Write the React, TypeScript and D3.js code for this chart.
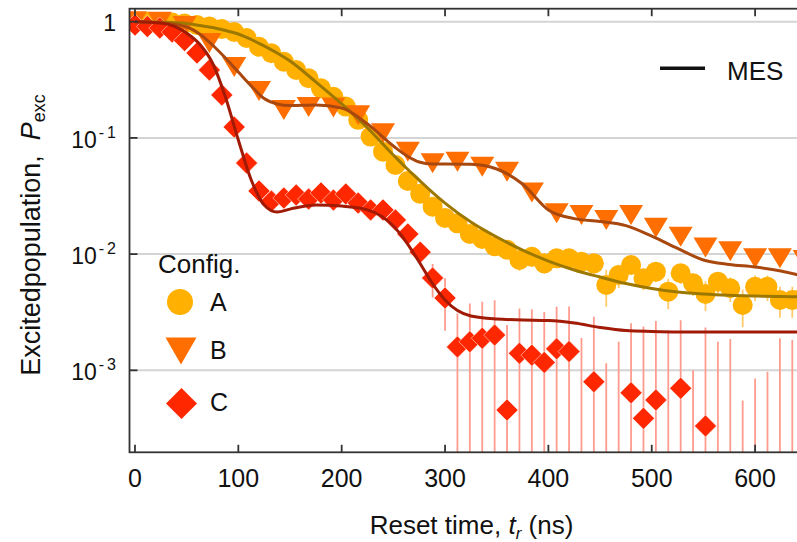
import React from 'react';
import * as d3 from 'd3';

// ---------- data ----------
const tAC = [0, 12, 24, 36, 48, 60, 72, 84, 96, 108, 120, 132, 144, 156, 168, 180, 192, 204, 216, 228, 240, 252, 264, 276, 288, 300, 312, 324, 336, 348, 360, 372, 384, 396, 408, 420, 432, 444, 456, 468, 480, 492, 504, 516, 528, 540, 552, 564, 576, 588, 600, 612, 624, 636, 648];
const tB = [0, 24, 48, 72, 96, 120, 144, 168, 192, 216, 240, 264, 288, 312, 336, 360, 384, 408, 432, 456, 480, 504, 528, 552, 576, 600, 624, 648];

const popA = [1.0, 1.0, 0.994, 0.984, 0.965, 0.937, 0.909, 0.865, 0.815, 0.724, 0.609, 0.535, 0.453, 0.384, 0.326, 0.267, 0.226, 0.186, 0.143, 0.1026, 0.0761, 0.0584, 0.0426, 0.033, 0.0256, 0.0205, 0.0184, 0.0149, 0.0135, 0.0117, 0.0109, 0.0089, 0.0095, 0.00833, 0.0092, 0.0092, 0.0086, 0.00833, 0.00542, 0.00661, 0.00806, 0.00619, 0.00706, 0.00475, 0.00684, 0.00561, 0.00454, 0.00579, 0.00508, 0.00365, 0.00524, 0.00524, 0.00403, 0.00403, 0.0044];
const errA = [0.002, 0.002, 0.002, 0.003, 0.004, 0.005, 0.006, 0.007, 0.007, 0.008, 0.008, 0.008, 0.008, 0.008, 0.008, 0.007, 0.007, 0.006, 0.006, 0.005, 0.005, 0.004, 0.0035, 0.003, 0.0028, 0.0025, 0.0024, 0.0022, 0.002, 0.0019, 0.0018, 0.0017, 0.0017, 0.0016, 0.0016, 0.0016, 0.0016, 0.0016, 0.0019, 0.0015, 0.0014, 0.0013, 0.0013, 0.0014, 0.0013, 0.00125, 0.0013, 0.0012, 0.0012, 0.0013, 0.0013, 0.0013, 0.0012, 0.0012, 0.0012];

const popB = [1.01, 1.0, 0.92, 0.656, 0.408, 0.253, 0.174, 0.1845, 0.183, 0.157, 0.1096, 0.0761, 0.0605, 0.0624, 0.0565, 0.0512, 0.0339, 0.0225, 0.0217, 0.0197, 0.0217, 0.0169, 0.0141, 0.0114, 0.0106, 0.0092, 0.0092, 0.0089];

const popC = [0.937, 0.909, 0.883, 0.815, 0.689, 0.538, 0.384, 0.234, 0.124, 0.0608, 0.0349, 0.0286, 0.0304, 0.0323, 0.0298, 0.0336, 0.0292, 0.0329, 0.0275, 0.024, 0.024, 0.0197, 0.0149, 0.0104, 0.00623, 0.00419, 0.00159, 0.00176, 0.00189, 0.00201, 0.000455, 0.0014, 0.00135, 0.00117, 0.00153, 0.00145, -0.0002, 0.000797, -0.0009, -0.0003, 0.00064, 0.000386, 0.000555, 0.0001, 0.0007, -0.001, 0.000332, -0.0002, -0.0001, -0.0014, -0.0011, -0.001, -0.0001, -0.0002, -0.0003];
const errC = [0.004, 0.004, 0.004, 0.004, 0.004, 0.004, 0.004, 0.004, 0.003, 0.003, 0.002, 0.002, 0.002, 0.002, 0.002, 0.002, 0.002, 0.002, 0.002, 0.002, 0.002, 0.002, 0.002, 0.002, 0.002, 0.002, 0.0015, 0.002, 0.002, 0.002, 0.002, 0.002, 0.002, 0.002, 0.002, 0.0021, 0.0021, 0.0021, 0.00205, 0.00206, 0.0019, 0.002, 0.0021, 0.0021, 0.002, 0.002, 0.002, 0.00196, 0.00196, 0.00195, 0.00195, 0.00197, 0.00199, 0.00202, 0.002];

// MES model curves
const tFit = [0, 25, 50, 62.5, 75, 87.5, 100, 112.5, 125, 137.5, 150, 175, 200, 225, 250, 262.5, 275, 287.5, 300, 325, 350, 375, 400, 425, 450, 475, 500, 525, 550, 575, 600, 625, 650];
const fitA = [1.0, 0.99, 0.965, 0.927, 0.891, 0.84, 0.784, 0.703, 0.618, 0.538, 0.459, 0.303, 0.196, 0.1217, 0.0713, 0.0551, 0.0434, 0.0342, 0.0275, 0.0189, 0.01403, 0.01084, 0.00872, 0.0073, 0.00635, 0.00558, 0.00506, 0.00472, 0.00453, 0.00442, 0.00436, 0.00432, 0.00427];
const fitB = [1.0, 0.98, 0.9, 0.784, 0.63, 0.487, 0.369, 0.28, 0.218, 0.196, 0.19, 0.192, 0.181, 0.1317, 0.0852, 0.0706, 0.062, 0.0596, 0.0596, 0.0593, 0.054, 0.0401, 0.024, 0.0202, 0.0191, 0.0176, 0.0143, 0.0112, 0.0089, 0.00814, 0.00774, 0.00716, 0.00635];
const fitC = [1.0, 0.975, 0.799, 0.643, 0.441, 0.225, 0.0959, 0.0434, 0.02645, 0.023, 0.0244, 0.02645, 0.0259, 0.024, 0.01745, 0.0127, 0.00855, 0.00564, 0.00403, 0.00293, 0.00276, 0.00271, 0.00268, 0.00255, 0.00234, 0.0022, 0.00216, 0.00214, 0.00214, 0.00214, 0.00214, 0.00214, 0.00214];

const xTicks = [0, 100, 200, 300, 400, 500, 600];
const yTicks = [1, 0.1, 0.01, 0.001];
const yTickExp = ['', '-1', '-2', '-3'];
const configLabels = ['A', 'B', 'C'];

// ---------- style ----------
const colA = '#FFB000';
const colB = '#FF6E00';
const colC = '#FF2700';
const fitColA = '#9C7800';
const fitColB = '#A8480E';
const fitColC = '#A01A06';
const errColA = '#FFCB6A';
const errColC = '#FF9C8E';
const axisCol = '#333333';
const gridCol = '#D4D4D4';
const FONT = '"Liberation Sans", Arial, Helvetica, sans-serif';

const L = 129.5, R = 814, T = 8.7, B = 452.3;

export default function App() {
  const x = d3.scaleLinear().domain([-5.3, 657]).range([L, R]);
  const y = d3.scaleLog().domain([1.97e-4, 1.294]).range([B, T]);
  const yMin = 1.97e-4;

  const line = d3
    .line<number>()
    .x((_, i) => x(tFit[i]))
    .y((d) => y(d))
    .curve(d3.curveMonotoneX);

  const tri = (cx: number, cy: number, w: number, h: number) =>
    `M${cx - w / 2},${cy - h / 2}L${cx + w / 2},${cy - h / 2}L${cx},${cy + h / 2}Z`;
  const dia = (cx: number, cy: number, s: number) =>
    `M${cx},${cy - s}L${cx + s},${cy}L${cx},${cy + s}L${cx - s},${cy}Z`;

  const errBar = (t: number, v: number, e: number, col: string, key: string) => {
    const hi = v + e;
    const lo = v - e;
    if (hi <= yMin) return null;
    const y1 = y(hi);
    const y2 = lo > yMin ? y(lo) : B;
    return <line key={key} x1={x(t)} x2={x(t)} y1={y1} y2={y2} stroke={col} strokeWidth={1.8} />;
  };

  return (
    <div style={{ position: 'absolute', left: 0, top: 0 }}>
      <svg width={797} height={542} style={{ display: 'block', background: '#fff' }} fontFamily={FONT}>
        <defs>
          <clipPath id="plot">
            <rect x={L} y={T} width={R - L} height={B - T} />
          </clipPath>
        </defs>
        <rect x={0} y={0} width={797} height={542} fill="#fff" />

        {/* grid */}
        {yTicks.map((v) => (
          <line key={'g' + v} x1={L} x2={R} y1={y(v)} y2={y(v)} stroke={gridCol} strokeWidth={2} />
        ))}

        <g clipPath="url(#plot)">
          {/* error bars */}
          {tAC.map((t, i) => errBar(t, popC[i], errC[i], errColC, 'ec' + i))}
          {tAC.map((t, i) => errBar(t, popA[i], errA[i], errColA, 'ea' + i))}

          {/* markers */}
          {tAC.map((t, i) =>
            popA[i] > 0 ? <circle key={'a' + i} cx={x(t)} cy={y(popA[i])} r={10} fill={colA} /> : null
          )}
          {tB.map((t, i) => (
            <path key={'b' + i} d={tri(x(t), y(popB[i]), 24, 20)} fill={colB} />
          ))}
          {tAC.map((t, i) =>
            popC[i] > 0 ? (
              <path key={'c' + i} d={dia(x(t), y(popC[i]), 11)} fill={colC} stroke="#fff" strokeWidth={0.5} />
            ) : null
          )}

          {/* MES fits */}
          <path d={line(fitA) || ''} fill="none" stroke={fitColA} strokeWidth={3} />
          <path d={line(fitB) || ''} fill="none" stroke={fitColB} strokeWidth={3} />
          <path d={line(fitC) || ''} fill="none" stroke={fitColC} strokeWidth={3} />
        </g>

        {/* axes frame */}
        <rect x={L} y={T} width={R - L} height={B - T} fill="none" stroke={axisCol} strokeWidth={1.8} />
        {xTicks.map((v) => (
          <g key={'xt' + v}>
            <line x1={x(v)} x2={x(v)} y1={B} y2={B - 7.5} stroke={axisCol} strokeWidth={1.8} />
            <line x1={x(v)} x2={x(v)} y1={T} y2={T + 7.5} stroke={axisCol} strokeWidth={1.8} />
            <text x={x(v)} y={486.5} textAnchor="middle" fontSize={25} fill="#111">
              {v}
            </text>
          </g>
        ))}
        {yTicks.map((v, i) => (
          <g key={'yt' + v}>
            <line x1={L} x2={L + 8} y1={y(v)} y2={y(v)} stroke={axisCol} strokeWidth={1.8} />
            {yTickExp[i] === '' ? (
              <text x={116} y={y(v) + 9.5} textAnchor="end" fontSize={23} fill="#111">
                1
              </text>
            ) : (
              <text x={116} y={y(v) + 10} textAnchor="end" fontSize={23} fill="#111">
                10
                <tspan dy={-10} fontSize={16} dx={2}>
                  {yTickExp[i].slice(0, 1)}
                </tspan>
                <tspan fontSize={16} dx={3}>
                  {yTickExp[i].slice(1)}
                </tspan>
              </text>
            )}
          </g>
        ))}

        {/* axis titles */}
        <text x={471.5} y={534} textAnchor="middle" fontSize={26} fill="#111">
          Reset time,{' '}
          <tspan fontStyle="italic">t</tspan>
          <tspan fontStyle="italic" fontSize={17} dy={5}>
            r
          </tspan>
          <tspan dy={-5}> (ns)</tspan>
        </text>
        <text transform="translate(40,235) rotate(-90)" textAnchor="middle" fontSize={27} fill="#111">
          Excitedpopulation,{'\u00a0\u00a0'}
          <tspan fontStyle="italic">P</tspan>
          <tspan fontSize={18} dy={5}>
            exc
          </tspan>
        </text>

        {/* MES legend */}
        <line x1={660} x2={705} y1={68.3} y2={68.3} stroke="#111" strokeWidth={3.5} />
        <text x={727} y={80} fontSize={26} fill="#111">
          MES
        </text>

        {/* Config legend */}
        <text x={158} y={273} fontSize={26} fill="#111">
          Config.
        </text>
        <circle cx={180} cy={302} r={13} fill={colA} />
        <path d={tri(181, 351, 31, 27)} fill={colB} />
        <path d={dia(181.5, 403.5, 15.5)} fill={colC} />
        {configLabels.map((c, i) => (
          <text key={c} x={210} y={[311, 358.5, 411][i]} fontSize={25} fill="#111">
            {c}
          </text>
        ))}
      </svg>
    </div>
  );
}
